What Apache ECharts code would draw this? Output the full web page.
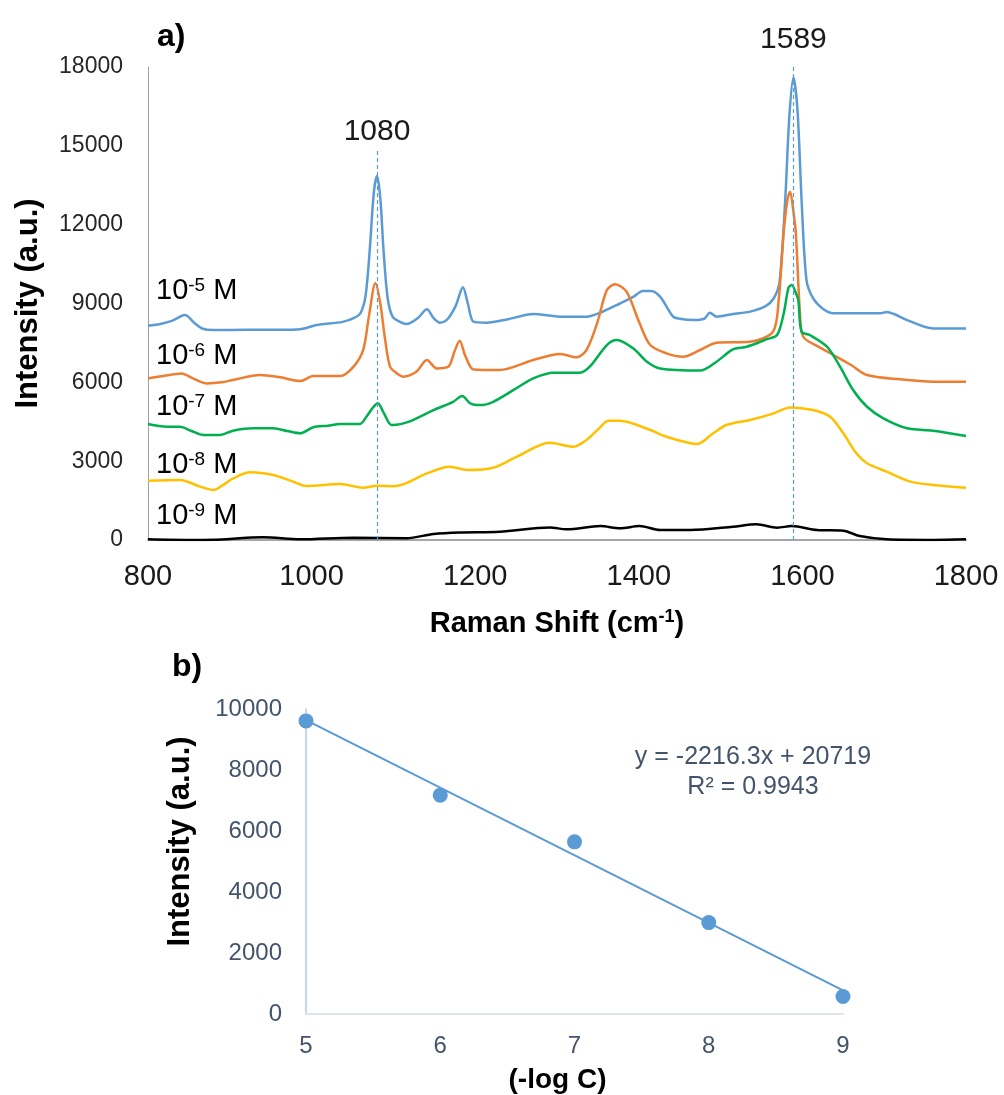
<!DOCTYPE html>
<html><head><meta charset="utf-8">
<script src="https://cdn.jsdelivr.net/npm/echarts@6/dist/echarts.min.js"></script>
<style>html,body{margin:0;padding:0;background:#fff}#c{width:1004px;height:1095px}</style>
</head><body><div id="c"></div>
<script>
// ---- Panel a) Raman spectra: [shift (cm-1), intensity (a.u.)] ----
const blue5 = [[800,8150],[815,8220],[830,8350],[845,8560],[857,8250],[866,8050],[880,7990],[920,8000],[960,8000],[986,8020],[1006,8180],[1038,8300],[1052,8450],[1060,8650],[1066,9300],[1071,11000],[1076,13200],[1080,13850],[1084,13000],[1088,11000],[1093,9200],[1099,8500],[1108,8300],[1116,8220],[1130,8450],[1141,8780],[1149,8450],[1157,8270],[1166,8400],[1176,8900],[1185,9620],[1191,9000],[1198,8310],[1214,8270],[1240,8400],[1271,8600],[1304,8500],[1336,8500],[1353,8650],[1377,9000],[1393,9250],[1405,9480],[1415,9480],[1426,9260],[1442,8500],[1450,8420],[1467,8370],[1480,8420],[1487,8650],[1495,8500],[1515,8600],[1536,8690],[1555,8900],[1565,9200],[1572,9800],[1579,12940],[1584,16100],[1589,17600],[1594,16360],[1599,12940],[1605,9890],[1613,9200],[1625,8800],[1638,8625],[1695,8625],[1703,8680],[1712,8600],[1728,8370],[1760,8050],[1800,8050]];
const orange6 = [[800,6150],[820,6250],[841,6340],[855,6150],[872,5960],[890,6000],[904,6090],[937,6280],[960,6200],[986,6050],[1002,6240],[1035,6240],[1051,6590],[1063,7230],[1070,8500],[1078,9770],[1084,9000],[1090,7600],[1096,6590],[1104,6350],[1112,6215],[1128,6400],[1141,6850],[1153,6530],[1167,6590],[1175,7200],[1181,7580],[1188,7000],[1198,6490],[1230,6470],[1271,6850],[1304,7080],[1324,6950],[1336,7230],[1349,8245],[1361,9510],[1371,9730],[1385,9450],[1401,8245],[1414,7420],[1434,7100],[1454,6975],[1475,7230],[1495,7510],[1536,7545],[1564,7925],[1571,9130],[1577,11680],[1582,13000],[1585,13250],[1589,12500],[1592,11680],[1597,8630],[1601,7735],[1620,7350],[1638,7040],[1660,6650],[1679,6280],[1719,6115],[1760,6025],[1800,6025]];
const green7 = [[800,4415],[823,4310],[839,4310],[853,4150],[868,3995],[888,3995],[904,4160],[929,4250],[953,4250],[970,4150],[986,4060],[1002,4290],[1020,4350],[1035,4415],[1059,4415],[1067,4690],[1074,5000],[1081,5200],[1088,4850],[1098,4375],[1110,4420],[1124,4565],[1149,4945],[1173,5260],[1184,5480],[1194,5200],[1206,5135],[1222,5260],[1247,5710],[1271,6150],[1296,6365],[1328,6365],[1340,6595],[1361,7420],[1373,7610],[1393,7295],[1410,6785],[1426,6530],[1475,6450],[1495,6785],[1515,7255],[1532,7355],[1556,7635],[1569,7800],[1577,8600],[1583,9600],[1587,9700],[1592,9400],[1595,9130],[1599,7925],[1609,7800],[1630,7355],[1646,6595],[1662,5710],[1679,5070],[1699,4630],[1728,4250],[1760,4160],[1800,3955]];
const yellow8 = [[800,2257],[839,2283],[864,2030],[880,1900],[892,2100],[904,2345],[925,2575],[953,2475],[975,2250],[994,2055],[1035,2130],[1063,1990],[1080,2060],[1100,2050],[1115,2155],[1141,2535],[1169,2790],[1190,2665],[1222,2750],[1251,3170],[1291,3700],[1320,3550],[1336,3805],[1350,4200],[1363,4540],[1377,4540],[1414,4185],[1434,3930],[1463,3680],[1471,3650],[1491,4060],[1507,4375],[1536,4565],[1565,4820],[1585,5045],[1613,4945],[1634,4690],[1650,4060],[1666,3300],[1679,2920],[1703,2600],[1732,2220],[1760,2093],[1800,1990]];
const black9 = [[800,25],[850,0],[880,10],[941,100],[986,25],[1051,90],[1116,70],[1149,230],[1181,290],[1230,315],[1291,480],[1312,405],[1353,530],[1377,445],[1401,530],[1426,380],[1463,380],[1515,505],[1544,595],[1569,470],[1587,530],[1618,380],[1650,355],[1670,150],[1703,25],[1760,0],[1800,25]];
const spectraExponents = ['-5','-6','-7','-8','-9'];
const peakShifts = [1080, 1589];
const peakLineTops = [14900, 18000];

// ---- Panel b) calibration ----
const logC = [5, 6, 7, 8, 9];
const peakIntensity = [9610, 7176, 5645, 2997, 576];
const fitSlope = -2216.3;
const fitIntercept = 20719;
const fitR2 = 0.9943;

const FONT = "'Liberation Sans', Arial, sans-serif";
const colors = ['#5B9BD5', '#ED7D31', '#00B050', '#FFC000', '#000000'];
const spectra = [blue5, orange6, green7, yellow8, black9];
const labelY = [291, 356, 407, 465, 516];
const plain = v => String(v);

const series = spectra.map((d, i) => ({
  type: 'line', xAxisIndex: 0, yAxisIndex: 0, data: d,
  showSymbol: false, smooth: 0.3,
  lineStyle: { color: colors[i], width: 2.5 }, itemStyle: { color: colors[i] },
  z: 3, silent: true
}));
series[0].markLine = {
  silent: true, symbol: ['none', 'none'], animation: false,
  lineStyle: { color: '#5B9BD5', type: [4, 3], width: 1.2, opacity: 1 },
  data: peakShifts.map((p, i) => [
    { coord: [p, 0], lineStyle: { color: '#5B9BD5' }, label: { show: true, position: 'end', formatter: String(p), fontSize: 30, color: '#1a1a1a', fontFamily: FONT, distance: i === 0 ? 2 : 12 } },
    { coord: [p, peakLineTops[i]] }
  ])
};

series.push({
  type: 'line', xAxisIndex: 1, yAxisIndex: 1,
  data: [[logC[0], fitSlope * logC[0] + fitIntercept], [logC[logC.length - 1], fitSlope * logC[logC.length - 1] + fitIntercept]],
  showSymbol: false, lineStyle: { color: '#5B9BD5', width: 2 }, silent: true, z: 2
});
series.push({
  type: 'scatter', xAxisIndex: 1, yAxisIndex: 1,
  data: logC.map((x, i) => [x, peakIntensity[i]]),
  symbolSize: 15, itemStyle: { color: '#5B9BD5', opacity: 1 }, silent: true, z: 3
});

const graphic = [
  { type: 'text', x: 157, y: 37, style: { text: 'a)', font: "bold 32px " + FONT, fill: '#000', textVerticalAlign: 'middle' } },
  { type: 'text', x: 172, y: 667, style: { text: 'b)', font: "bold 32px " + FONT, fill: '#000', textVerticalAlign: 'middle' } },
  { type: 'text', x: 753, y: 757, style: { text: 'y = ' + fitSlope + 'x + ' + fitIntercept, font: "25px " + FONT, fill: '#44546A', textAlign: 'center', textVerticalAlign: 'middle' } },
  { type: 'text', x: 753, y: 787, style: { text: 'R\u00B2 = ' + fitR2, font: "25px " + FONT, fill: '#44546A', textAlign: 'center', textVerticalAlign: 'middle' } }
];
spectraExponents.forEach((e, i) => {
  graphic.push({
    type: 'text', x: 156, y: labelY[i],
    style: {
      text: '{n|10}{s|' + e + '}{n| M}', textVerticalAlign: 'middle', textAlign: 'left',
      rich: {
        n: { fontSize: 29, fontFamily: FONT, color: '#1a1a1a', lineHeight: 30 },
        s: { fontSize: 19, fontFamily: FONT, color: '#1a1a1a', lineHeight: 30, verticalAlign: 'top', padding: [0, 0, 10, 0] }
      }
    }
  });
});

const chart = echarts.init(document.getElementById('c'));
chart.setOption({
  animation: false,
  backgroundColor: '#fff',
  grid: [
    { left: 148, right: 38, top: 67, height: 473 },
    { left: 306, width: 537, top: 709, height: 307 }
  ],
  xAxis: [
    {
      gridIndex: 0, type: 'value', min: 800, max: 1800, interval: 200,
      axisLine: { show: true, lineStyle: { color: '#a6a6a6', width: 2 } },
      axisTick: { show: false }, splitLine: { show: false },
      axisLabel: { fontSize: 29, color: '#1a1a1a', fontFamily: FONT, margin: 22, formatter: plain },
      name: '{b|Raman Shift (cm}{sup|-1}{b|)}', nameLocation: 'middle', nameGap: 68,
      nameTextStyle: {
        rich: {
          b: { fontSize: 29, fontWeight: 'bold', fontFamily: FONT, color: '#000', lineHeight: 32 },
          sup: { fontSize: 18, fontWeight: 'bold', fontFamily: FONT, color: '#000', lineHeight: 32, verticalAlign: 'top', padding: [0, 0, 12, 0] }
        }
      }
    },
    {
      gridIndex: 1, type: 'value', min: 5, max: 9, interval: 1,
      axisLine: { show: true, lineStyle: { color: '#D6DCE5', width: 1.5 } },
      axisTick: { show: false }, splitLine: { show: false },
      axisLabel: { fontSize: 24, color: '#44546A', fontFamily: FONT, margin: 20, formatter: plain },
      name: '(-log C)', nameLocation: 'middle', nameGap: 52,
      nameTextStyle: { fontSize: 28, fontWeight: 'bold', fontFamily: FONT, color: '#000', padding: [0, 34, 0, 0] }
    }
  ],
  yAxis: [
    {
      gridIndex: 0, type: 'value', min: 0, max: 18000, interval: 3000,
      axisLine: { show: true, lineStyle: { color: '#a0a0a0', width: 1 } },
      axisTick: { show: false }, splitLine: { show: false },
      axisLabel: { fontSize: 23, color: '#262626', fontFamily: FONT, margin: 25, formatter: plain },
      name: 'Intensity (a.u.)', nameLocation: 'middle', nameGap: 104,
      nameTextStyle: { fontSize: 31, fontWeight: 'bold', fontFamily: FONT, color: '#000' }
    },
    {
      gridIndex: 1, type: 'value', min: 0, max: 10000, interval: 2000,
      axisLine: { show: true, lineStyle: { color: '#B4C7E7', width: 1.5 } },
      axisTick: { show: false }, splitLine: { show: false },
      axisLabel: { fontSize: 24, color: '#44546A', fontFamily: FONT, margin: 24, formatter: plain },
      name: 'Intensity (a.u.)', nameLocation: 'middle', nameGap: 110,
      nameTextStyle: { fontSize: 31, fontWeight: 'bold', fontFamily: FONT, color: '#000', padding: [0, 0, 0, 40] }
    }
  ],
  series: series,
  graphic: graphic
});
</script>
</body></html>
